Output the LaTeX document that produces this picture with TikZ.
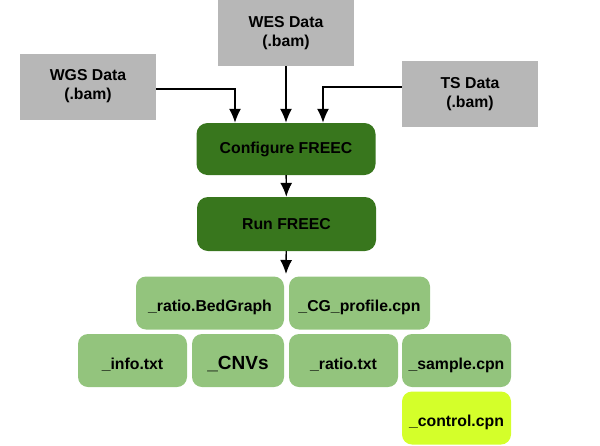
\documentclass[tikz,border=0pt]{standalone}
\usepackage{fontspec}
\setmainfont{Liberation Sans}
\usetikzlibrary{arrows.meta}

\definecolor{datagray}{HTML}{B7B7B7}
\definecolor{stepgreen}{HTML}{38761D}
\definecolor{outgreen}{HTML}{93C47D}
\definecolor{ctlyellow}{HTML}{D4FF2A}

\begin{document}
\begin{tikzpicture}[x=1pt, y=-1pt,
every node/.style={%
    inner sep=1pt, font=\fontsize{15.8}{19}\selectfont\bfseries, text=black
    },
databox/.style={fill=datagray, minimum width=136pt, minimum height=66pt, align=center},
stepbox/.style={fill=stepgreen, rounded corners=11pt, minimum width=179pt},
outbox/.style={fill=outgreen, rounded corners=10pt, minimum height=53pt,
    text height=17pt, text depth=0pt},
flow/.style={line width=1.4pt, -{Latex[length=14pt,width=12pt]}}
]
\useasboundingbox (0,0) rectangle (600,445);

% inputs
\node[databox] (wes) at (286,33) {WES Data\\(.bam)};
\node[databox] (wgs) at (88,86.5) {WGS Data\\(.bam)};
\node[databox] (ts) at (470,94) {TS Data\\(.bam)};

% freec steps
\node[stepbox, minimum height=52pt] (conf) at (286,149) {Configure FREEC};
\node[stepbox, minimum height=54pt] (run) at (286.5,224) {Run FREEC};

% outputs
\node[outbox, minimum width=148pt] (bed) at (210,303) {\_ratio.BedGraph};
\node[outbox, minimum width=141pt] (cgp) at (359.5,303) {\_CG\_profile.cpn};
\node[outbox, minimum width=109pt] (info) at (132.5,360.5) {\_info.txt};
\node[outbox, minimum width=92pt, font=\fontsize{19}{22}\selectfont\bfseries] (cnv) at (238,360.5) {\_CNVs};
\node[outbox, minimum width=109pt] (rtxt) at (343.5,360.5) {\_ratio.txt};
\node[outbox, minimum width=109pt] (smp) at (456.5,360.5) {\_sample.cpn};
\node[outbox, minimum width=109pt, fill=ctlyellow] (ctl) at (456.5,418) {\_control.cpn};

\coordinate (out) at (286,274);

\draw[flow] ([yshift=-2.5pt]wgs.east) -| ([xshift=-51pt]conf.north);
\draw[flow] (wes.south) -- (wes.south |- conf.north);
\draw[flow] ([yshift=7pt]ts.west) -| ([xshift=37pt]conf.north);
\foreach \i/\j in {conf/run, run/out}
    \draw[flow] (\i) -- (\j);

\end{tikzpicture}
\end{document}
